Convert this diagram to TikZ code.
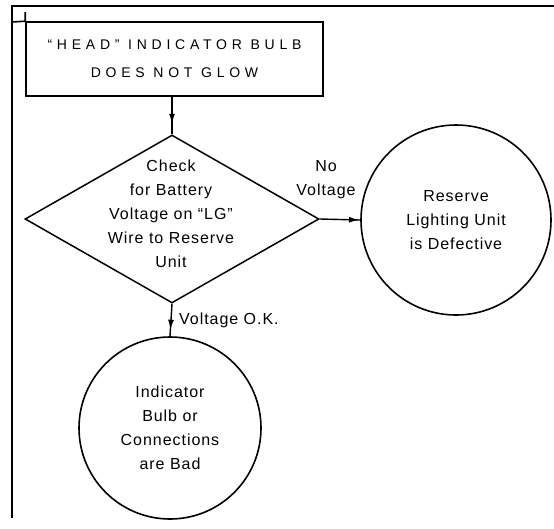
\documentclass[tikz,border=0pt]{standalone}
\usepackage{fontspec}
\setmainfont{Liberation Sans}
\newfontfamily\headfont[LetterSpace=34]{Liberation Sans}
\newfontfamily\bodyfont[LetterSpace=6]{Liberation Sans}
\usetikzlibrary{shapes.geometric,arrows.meta,decorations.markings}
\tikzset{
  frame/.style  = {line width=1.6pt},
  headbox/.style= {draw, line width=1.6pt, minimum width=297pt, minimum height=74pt,
                   inner sep=0pt, align=center, font=\headfont\fontsize{14}{28}\selectfont},
  check/.style  = {draw, diamond, line width=1.5pt, minimum width=294pt,
                   minimum height=168pt, inner sep=0pt},
  result/.style = {draw, circle, line width=1.6pt, inner sep=0pt, align=center,
                   font=\bodyfont\fontsize{16}{24}\selectfont},
  txt/.style    = {align=center, inner sep=0pt, font=\bodyfont\fontsize{16}{24}\selectfont},
  flow/.style   = {line width=1.4pt, postaction={decorate},
                   decoration={markings, mark=at position #1 with {\arrow{Latex[length=10pt,width=6pt]}}}},
}

\begin{document}
\begin{tikzpicture}[x=1pt, y=-1pt]
  \useasboundingbox (0,0) rectangle (554,528);
  % page frame
  \draw[frame] (554,6) -- (12,6) -- (12,518);
  \node[headbox] (hd) at (174.5,59) {“HEAD” INDICATOR BULB\\DOES NOT GLOW};
  \draw[frame] (12,22) -- (hd.north west) -- ++(0,-9);
  \node[check] (chk) at (172,219) {};
  \node[txt] (chktxt) at (171,214) {Check\\for Battery\\Voltage on “LG”\\Wire to Reserve\\Unit};
  \node[result, minimum size=190pt] (res) at (456,220) {Reserve\\Lighting Unit\\is Defective};
  \node[result, minimum size=182pt] (bad) at (170,428) {Indicator\\Bulb or\\Connections\\are Bad};
  % connectors
  \draw[flow=0.72] (hd.south -| chk.north) -- (chk.north);
  \draw[flow=0.97] (chk.east) -- (res.west);
  \draw[flow=0.8] (chk.south) -- (bad.north);
  \node[txt] (nolab) at (326,180) {No\\Voltage};
  \node[txt, anchor=west] (oklab) at (179,320) {Voltage O.K.};
\end{tikzpicture}
\end{document}
